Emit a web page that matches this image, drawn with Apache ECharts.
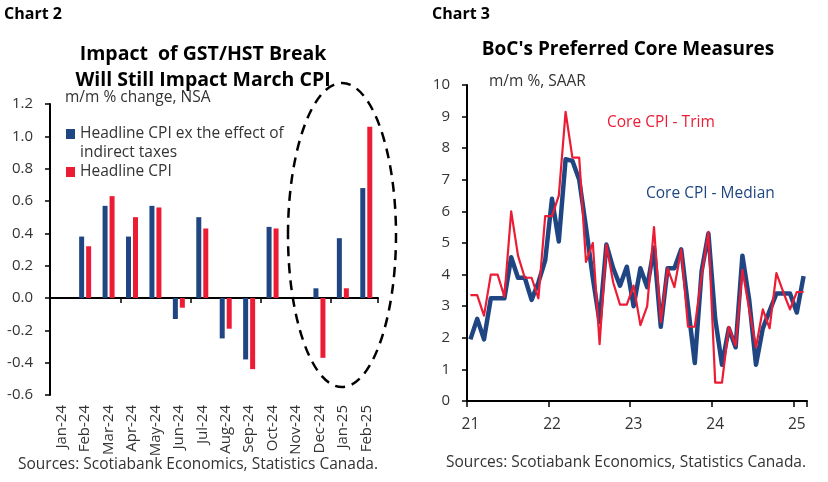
<!DOCTYPE html>
<html>
<head>
<meta charset="utf-8">
<script src="https://cdn.jsdelivr.net/npm/echarts@6/dist/echarts.min.js"></script>
<style>
	html, body { margin: 0; padding: 0; background: #fff; }
	#main { width: 828px; height: 482px; }
</style>
</head>
<body>
<div id="main"></div>
<script>
// Chart 2: monthly bars
const barMonths = [ 'Jan-24', 'Feb-24', 'Mar-24', 'Apr-24', 'May-24', 'Jun-24', 'Jul-24',
	'Aug-24', 'Sep-24', 'Oct-24', 'Nov-24', 'Dec-24', 'Jan-25', 'Feb-25' ];
const exTaxes = [ null, 0.38, 0.57, 0.38, 0.57, -0.13, 0.50, -0.25, -0.38, 0.44, null, 0.06, 0.37, 0.68 ];
const headline = [ null, 0.32, 0.63, 0.50, 0.56, -0.06, 0.43, -0.19, -0.44, 0.43, null, -0.37, 0.06, 1.06 ];

// Chart 3: Jan 2021 .. Feb 2025
const lineMonths = [];
for ( let y = 2021; y <= 2025; y++ ) {
	for ( let m = 1; m <= 12; m++ ) {
		if ( y === 2025 && m > 2 ) break;
		lineMonths.push( y + '-' + ( m < 10 ? '0' + m : m ) );
	}
}
const trim = [
	3.35, 3.35, 2.7, 4.0, 4.0, 3.3, 6.0, 4.6, 3.9, 3.9, 3.25, 5.85,
	5.85, 6.5, 9.15, 7.7, 7.7, 4.4, 5.0, 1.8, 4.95, 3.75, 3.05, 3.05,
	3.65, 2.4, 3.0, 5.5, 2.5, 4.2, 3.6, 4.8, 2.35, 2.35, 3.95, 5.35,
	0.58, 0.58, 2.35, 1.75, 4.15, 2.9, 1.7, 2.9, 2.3, 4.05, 3.45, 2.9,
	3.45, 3.45
];
const median = [
	1.95, 2.6, 1.95, 3.25, 3.25, 3.25, 4.55, 3.9, 3.9, 3.2, 3.75, 4.45,
	6.4, 5.05, 7.65, 7.6, 7.0, 5.5, 3.9, 2.5, 4.95, 4.2, 3.65, 4.25,
	3.0, 4.2, 3.6, 4.85, 2.35, 4.2, 4.2, 4.8, 3.0, 1.2, 4.1, 5.3,
	2.6, 1.15, 2.3, 1.7, 4.6, 3.2, 1.15, 2.3, 2.85, 3.4, 3.4, 3.4,
	2.8, 3.95
];

const FONT = '"Open Sans", "DejaVu Sans", sans-serif';
const BLUE = '#1f4682';
const RED = '#ec1c34';
const TXT = '#333333';
const EX_NAME = 'Headline CPI ex the effect of indirect taxes';

const myChart = echarts.init( document.getElementById( 'main' ), null, { renderer: 'canvas' } );

const yearTick = function ( index ) {
	return index % 12 === 0;
};

const options = {
	animation: false,
	textStyle: { fontFamily: FONT },
	legend: [
		{
			left: 66,
			top: 126,
			padding: 0,
			icon: 'rect',
			itemWidth: 9,
			itemHeight: 10,
			data: [ EX_NAME ],
			// second line of the name is drawn below as text
			formatter: function () { return 'Headline CPI ex the effect of'; },
			textStyle: { fontFamily: FONT, fontSize: 15.5, color: TXT }
		},
		{
			left: 66,
			top: 164,
			padding: 0,
			icon: 'rect',
			itemWidth: 9,
			itemHeight: 10,
			data: [ 'Headline CPI' ],
			textStyle: { fontFamily: FONT, fontSize: 15.5, color: TXT }
		}
	],
	grid: [
		{ left: 50, right: 450, top: 104, bottom: 87 },
		{ left: 467, right: 21, top: 85, bottom: 81 }
	],
	xAxis: [
		{
			// zero line with ticks
			gridIndex: 0,
			type: 'category',
			data: barMonths,
			position: 'bottom',
			axisLine: { onZero: true, lineStyle: { color: '#000', width: 2 } },
			axisTick: { show: true, length: 5, lineStyle: { color: '#000', width: 1.5 } },
			axisLabel: { show: false }
		},
		{
			// month labels at the bottom
			gridIndex: 0,
			type: 'category',
			data: barMonths,
			position: 'bottom',
			axisLine: { show: false, onZero: false },
			axisTick: { show: false },
			axisLabel: { rotate: 90, margin: 10, fontSize: 15, color: TXT, fontFamily: FONT, interval: 0 }
		},
		{
			gridIndex: 1,
			type: 'category',
			data: lineMonths,
			boundaryGap: true,
			axisLine: { lineStyle: { color: '#000', width: 2 } },
			axisTick: { show: true, length: 6, interval: yearTick, lineStyle: { color: '#000', width: 1.5 } },
			axisLabel: {
				interval: yearTick,
				margin: 16,
				fontSize: 15.5,
				color: TXT,
				fontFamily: FONT,
				formatter: function ( v ) { return v.slice( 2, 4 ); }
			}
		}
	],
	yAxis: [
		{
			gridIndex: 0,
			type: 'value',
			min: -0.6,
			max: 1.2,
			interval: 0.2,
			splitLine: { show: false },
			axisLine: { show: true, lineStyle: { color: '#000', width: 2 } },
			axisTick: { show: true, length: 5, lineStyle: { color: '#000', width: 1.5 } },
			axisLabel: {
				margin: 17,
				fontSize: 15,
				color: TXT,
				fontFamily: FONT,
				formatter: function ( v ) { return v.toFixed( 1 ); }
			}
		},
		{
			gridIndex: 1,
			type: 'value',
			min: 0,
			max: 10,
			interval: 1,
			splitLine: { show: false },
			axisLine: { show: true, lineStyle: { color: '#000', width: 2 } },
			axisTick: { show: true, length: 5, lineStyle: { color: '#000', width: 1.5 } },
			axisLabel: { margin: 17, fontSize: 15, color: TXT, fontFamily: FONT }
		}
	],
	series: [
		{
			name: EX_NAME,
			type: 'bar',
			xAxisIndex: 0,
			yAxisIndex: 0,
			data: exTaxes,
			barWidth: 5,
			barGap: '40%',
			itemStyle: { color: BLUE }
		},
		{
			name: 'Headline CPI',
			type: 'bar',
			xAxisIndex: 0,
			yAxisIndex: 0,
			data: headline,
			barWidth: 5,
			barGap: '40%',
			itemStyle: { color: RED }
		},
		{
			name: 'Core CPI - Median',
			type: 'line',
			xAxisIndex: 2,
			yAxisIndex: 1,
			data: median,
			showSymbol: false,
			lineStyle: { color: BLUE, width: 4.5, join: 'round' },
			itemStyle: { color: BLUE }
		},
		{
			name: 'Core CPI - Trim',
			type: 'line',
			xAxisIndex: 2,
			yAxisIndex: 1,
			data: trim,
			showSymbol: false,
			lineStyle: { color: RED, width: 2.2, join: 'round' },
			itemStyle: { color: RED }
		}
	],
	graphic: [
		{ type: 'text', left: 4, top: 6, style: { text: 'Chart 2', font: 'bold 16px ' + FONT, fill: '#000' } },
		{ type: 'text', left: 432, top: 6, style: { text: 'Chart 3', font: 'bold 16px ' + FONT, fill: '#000' } },
		{
			type: 'text', x: 203, y: 41,
			style: {
				text: 'Impact  of GST/HST Break\nWill Still Impact March CPI',
				font: 'bold 19.5px ' + FONT, fill: '#000', align: 'center', lineHeight: 26
			}
		},
		{
			type: 'text', x: 628, y: 40,
			style: { text: "BoC's Preferred Core Measures", font: 'bold 19px ' + FONT, fill: '#000', align: 'center' }
		},
		{ type: 'text', x: 65, y: 90, style: { text: 'm/m % change, NSA', font: '15.5px ' + FONT, fill: TXT } },
		{ type: 'text', x: 80, y: 145, style: { text: 'indirect taxes', font: '15.5px ' + FONT, fill: TXT } },
		{ type: 'text', x: 489, y: 74, style: { text: 'm/m %, SAAR', font: '15.5px ' + FONT, fill: TXT } },
		{ type: 'text', x: 607, y: 115, style: { text: 'Core CPI - Trim', font: '15.5px ' + FONT, fill: RED } },
		{ type: 'text', x: 646, y: 186, style: { text: 'Core CPI - Median', font: '15.5px ' + FONT, fill: BLUE } },
		{ type: 'text', x: 18, y: 457, style: { text: 'Sources: Scotiabank Economics, Statistics Canada.', font: '15.5px ' + FONT, fill: TXT } },
		{ type: 'text', x: 446, y: 455, style: { text: 'Sources: Scotiabank Economics, Statistics Canada.', font: '15.5px ' + FONT, fill: TXT } },
		{
			// dashed circle around the last months
			type: 'ellipse',
			shape: { cx: 342, cy: 235, rx: 54, ry: 152 },
			style: { fill: null, stroke: '#000', lineWidth: 2.5, lineDash: [ 10, 7 ] },
			z: 10
		}
	]
};

myChart.setOption( options );
</script>
</body>
</html>
